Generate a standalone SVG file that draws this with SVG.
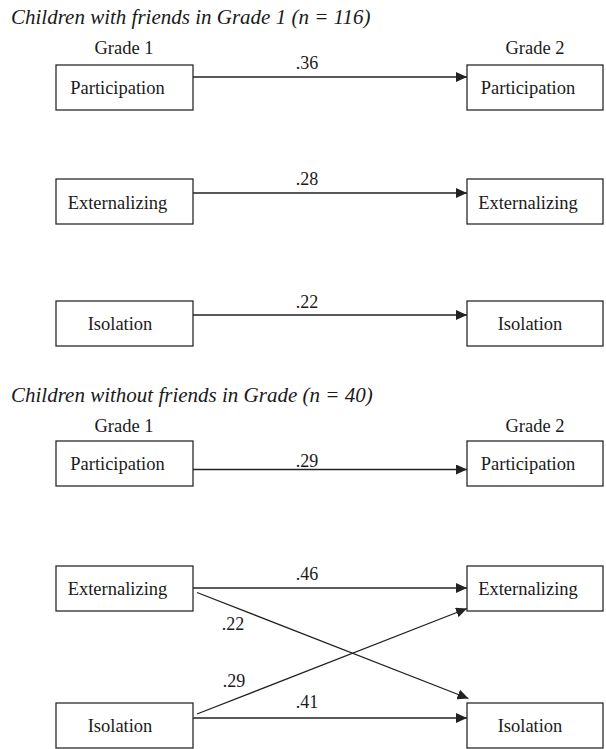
<svg xmlns="http://www.w3.org/2000/svg" width="606" height="749" viewBox="0 0 606 749">
<style>
text{font-family:"Liberation Serif","Times New Roman",serif;fill:#1a1a1a}
.title{font-size:21px;font-style:italic}
.lbl{font-size:18.5px;text-anchor:middle}
.coef{font-size:18px;text-anchor:middle}
.box{fill:#fff;stroke:#2a2a2a;stroke-width:1.3}
.edge{stroke:#222;stroke-width:1.3;fill:none;marker-end:url(#arr)}
</style>
<defs>
<marker id="arr" markerUnits="userSpaceOnUse" markerWidth="11" markerHeight="10" refX="11" refY="5" orient="auto">
<path d="M0,0 L11,5 L0,10 z" fill="#222"/>
</marker>
</defs>
<rect width="606" height="749" fill="#fff"/>
<text class="title" x="11" y="24">Children with friends in Grade 1 (n = 116)</text>
<text class="lbl" x="124" y="54">Grade 1</text>
<text class="lbl" x="535" y="54">Grade 2</text>
<text class="title" x="11" y="402">Children without friends in Grade (n = 40)</text>
<text class="lbl" x="124" y="432">Grade 1</text>
<text class="lbl" x="535" y="432">Grade 2</text>

<g id="connectors">
<line class="edge" x1="193" y1="77" x2="467" y2="77"/>
<line class="edge" x1="193" y1="193" x2="467" y2="193"/>
<line class="edge" x1="193" y1="315" x2="467" y2="315"/>
<line class="edge" x1="193" y1="469.5" x2="467" y2="469.5"/>
<line class="edge" x1="193" y1="588" x2="467" y2="588"/>
<line class="edge" x1="193" y1="718" x2="467" y2="718"/>
<line class="edge" x1="197" y1="592.5" x2="468.5" y2="698.5"/>
<line class="edge" x1="197" y1="714" x2="467" y2="608.5"/>
<text class="coef" x="307" y="69">.36</text>
<text class="coef" x="307" y="185">.28</text>
<text class="coef" x="307" y="308">.22</text>
<text class="coef" x="307" y="467">.29</text>
<text class="coef" x="307" y="580">.46</text>
<text class="coef" x="233" y="630">.22</text>
<text class="coef" x="234" y="687">.29</text>
<text class="coef" x="307" y="708">.41</text>
</g>

<g id="s1-g1-participation"><rect class="box" x="56" y="65" width="137" height="45"/><text class="lbl" x="117.5" y="94">Participation</text></g>
<g id="s1-g2-participation"><rect class="box" x="467" y="65" width="136" height="45"/><text class="lbl" x="528" y="94">Participation</text></g>
<g id="s1-g1-externalizing"><rect class="box" x="56" y="179" width="137" height="45"/><text class="lbl" x="117.5" y="208.5">Externalizing</text></g>
<g id="s1-g2-externalizing"><rect class="box" x="467" y="179" width="136" height="45"/><text class="lbl" x="528" y="208.5">Externalizing</text></g>
<g id="s1-g1-isolation"><rect class="box" x="56" y="301" width="137" height="45"/><text class="lbl" x="120" y="330">Isolation</text></g>
<g id="s1-g2-isolation"><rect class="box" x="467" y="301" width="136" height="45"/><text class="lbl" x="530" y="330">Isolation</text></g>

<g id="s2-g1-participation"><rect class="box" x="56" y="441" width="137" height="45"/><text class="lbl" x="117.5" y="470">Participation</text></g>
<g id="s2-g2-participation"><rect class="box" x="467" y="441" width="136" height="45"/><text class="lbl" x="528" y="470">Participation</text></g>
<g id="s2-g1-externalizing"><rect class="box" x="56" y="566" width="137" height="45"/><text class="lbl" x="117.5" y="595">Externalizing</text></g>
<g id="s2-g2-externalizing"><rect class="box" x="467" y="566" width="136" height="45"/><text class="lbl" x="528" y="595">Externalizing</text></g>
<g id="s2-g1-isolation"><rect class="box" x="56" y="703" width="137" height="45"/><text class="lbl" x="120" y="732">Isolation</text></g>
<g id="s2-g2-isolation"><rect class="box" x="467" y="703" width="136" height="45"/><text class="lbl" x="530" y="732">Isolation</text></g>
</svg>
